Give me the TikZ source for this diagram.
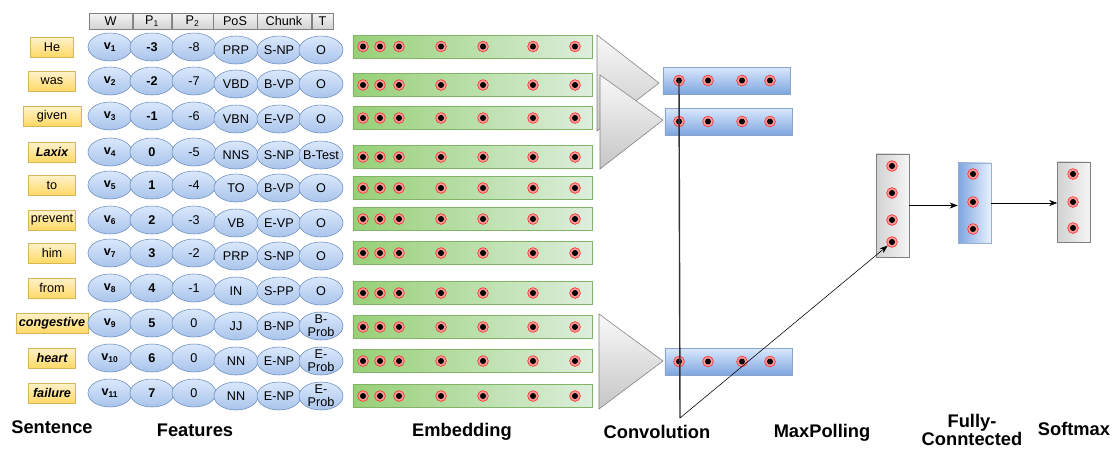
\documentclass[tikz,border=0pt]{standalone}
\usepackage{fontspec}
\setmainfont{Liberation Sans}
\usetikzlibrary{shapes.geometric,arrows.meta}
\definecolor{lightblue}{HTML}{DAE8FC}
\definecolor{midblue}{HTML}{A9C4EB}
\definecolor{darkblue}{HTML}{7EA6E0}
\definecolor{blueline}{HTML}{6C8EBF}
\definecolor{lightyellow}{HTML}{FFF2CC}
\definecolor{darkyellow}{HTML}{FFD966}
\definecolor{yellowline}{HTML}{D6B656}
\definecolor{lightgreen}{HTML}{DDEEDC}
\definecolor{darkgreen}{HTML}{97D077}
\definecolor{greenline}{HTML}{82B366}
\tikzset{
  word/.style={draw=yellowline, top color=lightyellow, bottom color=darkyellow, minimum height=5mm, inner sep=1pt},
  feat/.style={ellipse, draw=blueline, top color=lightblue, bottom color=midblue, minimum width=11mm, minimum height=7mm, inner sep=-2pt, align=center},
  head/.style={draw=gray, top color=gray!8, bottom color=gray!35, minimum height=4mm, inner sep=0pt},
  embed/.style={draw=greenline, left color=darkgreen, right color=lightgreen, minimum width=5.975cm, minimum height=5.75mm},
  conv/.style={draw=blueline!80, top color=lightblue, bottom color=darkblue, minimum width=3.175cm, minimum height=6.75mm},
  pool/.style={draw=gray, left color=gray!35, right color=gray!8, minimum width=8.25mm},
  dense/.style={draw=blueline!70, left color=darkblue, right color=lightblue!60, minimum width=8.25mm},
  filter/.style={draw=gray, top color=gray!5, bottom color=gray!45},
  dot/.style={circle, draw=red!85, fill=red!40, minimum size=2.7mm, inner sep=0pt, path picture={\fill [black] (path picture bounding box.center) circle (0.75mm);}},
  title/.style={font=\fontsize{13}{13}\selectfont\bfseries, align=center, inner sep=1pt}
}
\begin{document}
\fontsize{9}{9.5}\selectfont
\begin{tikzpicture}[x=0.025cm, y=-0.025cm]
  \useasboundingbox (0,0) rectangle (1113,450);
  \foreach \h/\x/\hw/\n in {W/110.5/1.075/hW, P\textsubscript{1}/152/0.95/hP, P\textsubscript{2}/192.5/1.025/hQ, PoS/235/1.1/hPoS, Chunk/284/1.35/hChunk, T/322.5/0.525/hT}
    \node [head, minimum width=\hw cm] (\n) at (\x,21) {\h};
  \foreach \i/\w/\ww/\pa/\pb/\ps/\ck/\tg/\y/\e in {
      1/He/1.075/-3/-8/PRP/S-NP/O/47/46.5,
      2/was/1.175/-2/-7/VBD/B-VP/O/81/85,
      3/given/1.45/-1/-6/VBN/E-VP/O/116/118,
      4/{\bfseries\itshape Laxix}/1.175/0/-5/NNS/S-NP/B-Test/152/157,
      5/to/1.175/1/-4/TO/B-VP/O/185/188,
      6/prevent/1.175/2/-3/VB/E-VP/O/220/219,
      7/him/1.175/3/-2/PRP/S-NP/O/253/253,
      8/from/1.175/4/-1/IN/S-PP/O/288/293,
      9/{\bfseries\itshape congestive}/1.8/5/0/JJ/B-NP/B-\\Prob/323/327,
      10/{\bfseries\itshape heart}/1.175/6/0/NN/E-NP/E-\\Prob/358/361,
      11/{\bfseries\itshape failure}/1.175/7/0/NN/E-NP/E-\\Prob/393/396} {
    \node [word, minimum width=\ww cm] (w\i) at (52,\y) {\w};
    \node [feat, font=\bfseries] (v\i) at (110,\y) {v\textsubscript{\i}};
    \node [feat, font=\bfseries] (p\i) at (152,\y) {\pa};
    \node [feat] (q\i) at (194,\y) {\pb};
    \node [feat] (pos\i) at (236,\y+3) {\ps};
    \node [feat] (ch\i) at (279,\y+3) {\ck};
    \node [feat] (t\i) at (321,\y+3) {\tg};
    \node [embed] (e\i) at (472.5,\e) {};
    \foreach \d [count=\k] in {10,27,46,88,130,180,222}
      \node [dot] (e\i-\k) at (353+\d,\e) {};
  }
  \path [filter] (597,35) -- (659,83) -- (597,131) -- cycle;
  \path [filter] (600,75) -- (663,120) -- (600,169) -- cycle;
  \path [filter] (599,314) -- (663,361) -- (599,409) -- cycle;
  \node [conv] (c1) at (726.5,80.5) {};
  \node [conv] (c2) at (728.5,121.5) {};
  \node [conv] (c3) at (728.5,361.5) {};
  \foreach \n/\y in {1/80.5, 2/121.5, 3/361.5}
    \foreach \d [count=\k] in {16,45,79,107}
      \node [dot] (c\n-\k) at (663+\d,\y) {};
  \node [pool, minimum height=2.575cm] (mp) at (892.5,205.5) {};
  \foreach \y [count=\k] in {166,193,220,242}
    \node [dot] (mp-\k) at (892,\y) {};
  \node [dense, minimum height=2cm] (fc) at (974.5,203) {};
  \foreach \y [count=\k] in {174,202,229}
    \node [dot] (fc-\k) at (973,\y) {};
  \node [pool, minimum height=2cm] (sm) at (1074,202) {};
  \foreach \y [count=\k] in {174,202,228}
    \node [dot] (sm-\k) at (1073,\y) {};
  \coordinate (turn) at (680,418);
  \draw [gray!40!black, line width=1pt] (c1-1.center) -- (turn);
  \draw [-{Stealth[length=2mm]}] (turn) -- (mp-4);
  \draw [-{Stealth[length=2mm]}] (mp.east) -- (mp.east -| fc.west);
  \draw [-{Stealth[length=2mm]}] (fc.east) -- (fc.east -| sm.west);
  \node [title] (lsen) at (52,427) {Sentence};
  \node [title] (lfeat) at (195,430) {Features};
  \node [title] (lemb) at (462,432) {Embedding};
  \node [title] (lconv) at (657,432) {Convolution};
  \node [title] (lmax) at (822,433) {MaxPolling};
  \node [title] (lfc) at (972,430) {Fully-\\Conntected};
  \node [title] (lsm) at (1074,429) {Softmax};
\end{tikzpicture}
\end{document}
